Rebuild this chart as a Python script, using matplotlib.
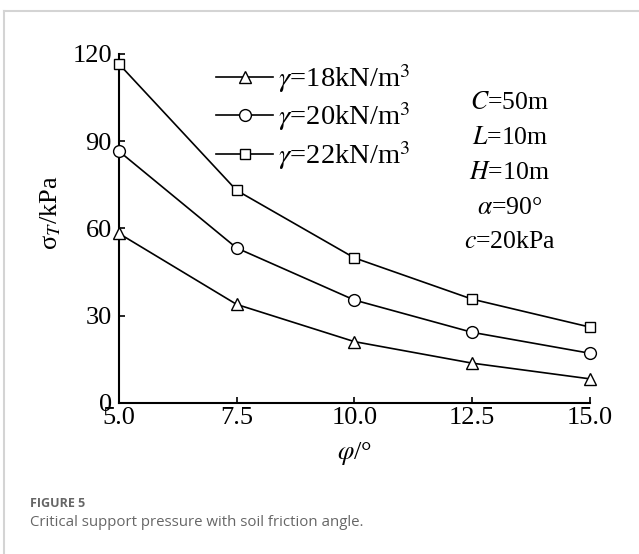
import matplotlib.pyplot as plt
from matplotlib.lines import Line2D

# Data
phi = [5.0, 7.5, 10.0, 12.5, 15.0]
sigma_18 = [58.3, 33.9, 21.1, 13.7, 8.3]
sigma_20 = [86.6, 53.3, 35.4, 24.3, 17.1]
sigma_22 = [116.6, 73.1, 49.9, 35.7, 26.1]
series_labels = [r'$\gamma$=18kN/m$^3$', r'$\gamma$=20kN/m$^3$', r'$\gamma$=22kN/m$^3$']
params = [r'$C$=50m', r'$L$=10m', r'$H$=10m', r'$\alpha$=90°', r'$c$=20kPa']
y_ticks = [0, 30, 60, 90, 120]

plt.rcParams['font.family'] = ['Liberation Serif', 'DejaVu Serif']
plt.rcParams['mathtext.fontset'] = 'stix'

fig = plt.figure(figsize=(6.39, 5.54), dpi=100)
ax = fig.add_axes([0.186, 0.2726, 0.737, 0.63])

# Series
style = dict(color='black', lw=1.2, markerfacecolor='white', markeredgecolor='black',
             markeredgewidth=1.0, clip_on=False, zorder=3)
ax.plot(phi, sigma_18, marker='^', markersize=9, label=series_labels[0], **style)
ax.plot(phi, sigma_20, marker='o', markersize=8.5, label=series_labels[1], **style)
ax.plot(phi, sigma_22, marker='s', markersize=7.5, label=series_labels[2], **style)

ax.set_xlim(5, 15)
ax.set_ylim(0, 120)
ax.set_xticks(phi)
ax.set_xticklabels([f'{v:.1f}' for v in phi])
ax.set_yticks(y_ticks)
ax.tick_params(direction='in', length=4, width=1.2, labelsize=19, pad=3)
ax.tick_params(axis='y', pad=5)
for s in ['top', 'right']:
    ax.spines[s].set_visible(False)
for s in ['left', 'bottom']:
    ax.spines[s].set_linewidth(1.5)

ax.set_xlabel(r'$\varphi$/°', fontsize=19, labelpad=8)
ax.set_ylabel('σ$_{T}$/kPa', fontsize=19)
ax.yaxis.set_label_coords(-0.119, 0.544)

# Legend
leg = ax.legend(loc='upper left', bbox_to_anchor=(0.183, 1.01), frameon=False,
                fontsize=20.5, handlelength=2.0, handletextpad=0.18,
                labelspacing=0.2, borderaxespad=0)

# Parameter block
for i, t in enumerate(params):
    ax.text(0.83, 0.86 - i * 0.1, t, transform=ax.transAxes, ha='center',
            va='center', fontsize=18.5)

# Outer frame lines (top and left)
fig.add_artist(Line2D([0.007, 1.0], [0.981, 0.981], transform=fig.transFigure,
                      color='#d4d4d4', lw=1.5))
fig.add_artist(Line2D([0.007, 0.007], [0.0, 0.981], transform=fig.transFigure,
                      color='#d4d4d4', lw=1.5))

# Caption
fig.text(0.047, 0.092, 'FIGURE 5', fontsize=9, color='#666666',
         family=['Open Sans', 'DejaVu Sans'], fontweight='bold', va='center')
fig.text(0.047, 0.057, 'Critical support pressure with soil friction angle.',
         fontsize=10.8, color='#666666', family=['Open Sans', 'DejaVu Sans'], va='center')

fig.savefig('out.png', dpi=100)
